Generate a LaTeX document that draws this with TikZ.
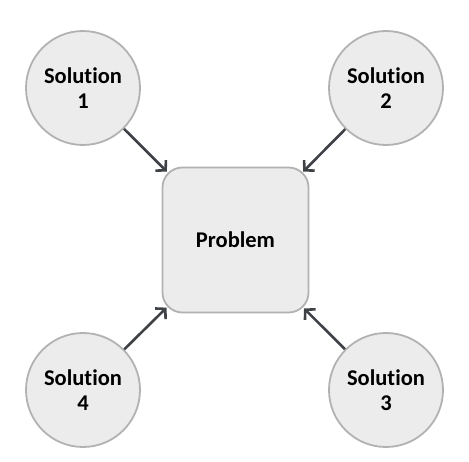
\documentclass[tikz,border=0pt]{standalone}
\usepackage{fontspec}
\setmainfont[Ligatures={NoCommon}]{Carlito}
\usetikzlibrary{arrows.meta}
\definecolor{nodefill}{HTML}{ECECEC}
\definecolor{nodeborder}{HTML}{B2B2B2}
\definecolor{arrowcol}{HTML}{3E4247}
\begin{document}
\begin{tikzpicture}[x=1pt,y=1pt,
  sol/.style={circle, draw=nodeborder, fill=nodefill, line width=1.8pt, minimum size=114pt, inner sep=0pt, align=center, font=\fontsize{22.5}{25}\selectfont\bfseries},
  prob/.style={rectangle, rounded corners=20pt, draw=nodeborder, fill=nodefill, line width=1.8pt, minimum width=146pt, minimum height=145pt, align=center, font=\fontsize{22.5}{25}\selectfont\bfseries},
  conn/.style={draw=arrowcol, line width=2.6pt, -{Straight Barb[length=7pt,width=15pt,line width=2.6pt]}, shorten >=-7pt}]
\useasboundingbox (0,0) rectangle (469,461);
\node[prob] (p) at (235.5,221) {Problem};
\node[sol] (s1) at (83,373) {Solution\\1};
\node[sol] (s2) at (386,373) {Solution\\2};
\node[sol] (s3) at (386,71) {Solution\\3};
\node[sol] (s4) at (83,71) {Solution\\4};
\draw[conn] (s1) -- (p);
\draw[conn] (s2) -- (p);
\draw[conn] (s3) -- (p);
\draw[conn] (s4) -- (p);
\end{tikzpicture}
\end{document}
